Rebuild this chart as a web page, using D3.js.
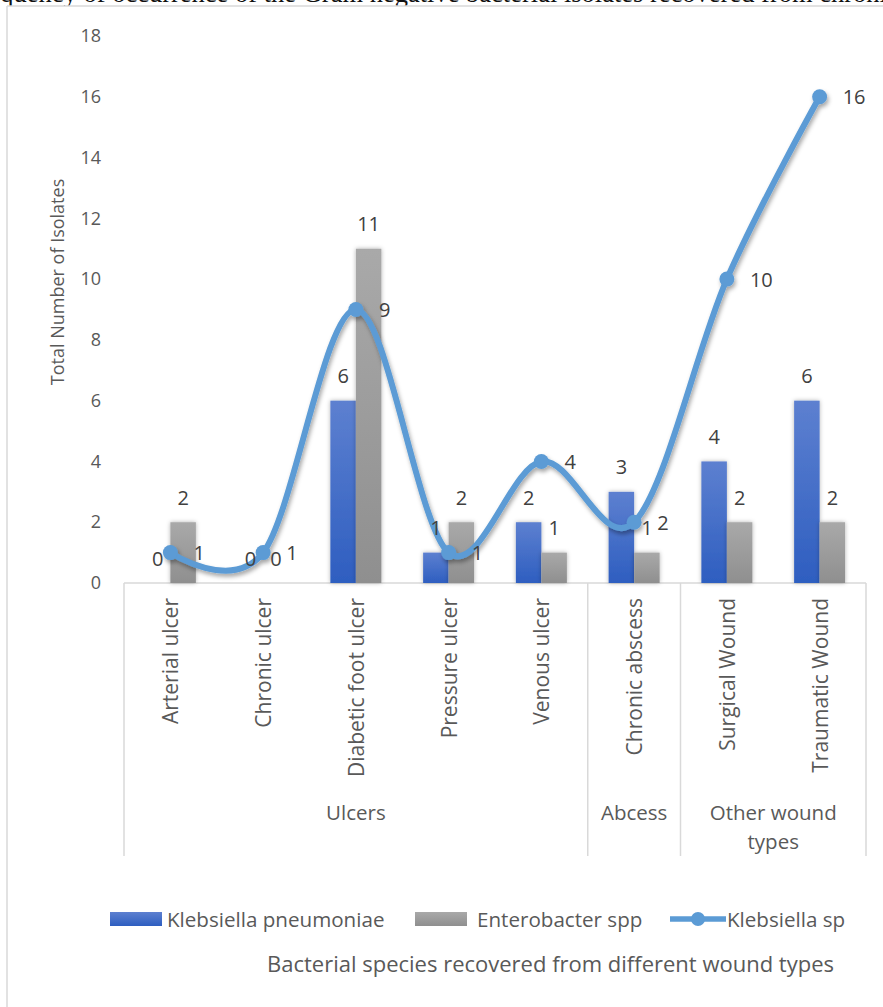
<!DOCTYPE html>
<html><head><meta charset="utf-8">
<script src="https://cdn.jsdelivr.net/npm/d3@7"></script>
<style>html,body{margin:0;padding:0;background:#fff;}svg{display:block;}</style>
</head><body>
<svg id="c" width="883" height="1007"></svg>
<script>
const categories = ["Arterial ulcer","Chronic ulcer","Diabetic foot ulcer","Pressure ulcer","Venous ulcer","Chronic abscess","Surgical Wound","Traumatic Wound"];
const groupNames = ["Ulcers","Abcess","Other wound types"];
const groupSizes = [5,1,2];
const klebsiellaPneumoniae = [0,0,6,1,2,3,4,6];
const enterobacterSpp = [2,0,11,2,1,1,2,2];
const klebsiellaSp = [1,1,9,1,4,2,10,16];
const yTicks = [0,2,4,6,8,10,12,14,16,18];
const seriesNames = ["Klebsiella pneumoniae","Enterobacter spp","Klebsiella sp"];
const yTitle = "Total Number of Isolates";
const xTitle = "Bacterial species recovered from different wound types";
const pageText = "Frequency of occurrence of the Gram negative bacterial isolates recovered from chronic wounds";

const svg = d3.select("#c");
const txt = "#595959", font = "'Open Sans', sans-serif";
const defs = svg.append("defs");
const gb = defs.append("linearGradient").attr("id","gBlue").attr("x1",0).attr("y1",0).attr("x2",0).attr("y2",1);
gb.append("stop").attr("offset","0%").attr("stop-color","#5d80d0");
gb.append("stop").attr("offset","100%").attr("stop-color","#2e5ec0");
const gg = defs.append("linearGradient").attr("id","gGray").attr("x1",0).attr("y1",0).attr("x2",0).attr("y2",1);
gg.append("stop").attr("offset","0%").attr("stop-color","#a9a9a9");
gg.append("stop").attr("offset","100%").attr("stop-color","#8f8f8f");
const fb = defs.append("filter").attr("id","barSh").attr("x","-30%").attr("y","-30%").attr("width","160%").attr("height","160%");
fb.append("feDropShadow").attr("dx",0).attr("dy",0).attr("stdDeviation",2).attr("flood-color","#000").attr("flood-opacity",0.3);
const fl = defs.append("filter").attr("id","lineSh").attr("x","-10%").attr("y","-10%").attr("width","120%").attr("height","120%");
fl.append("feDropShadow").attr("dx",1.5).attr("dy",3).attr("stdDeviation",2).attr("flood-color","#000").attr("flood-opacity",0.35);

// page text peeking above the chart
svg.append("text").attr("x",-35).attr("y",2).attr("font-family","'Liberation Serif', serif").attr("font-size",26.5).attr("fill","#111").text(pageText);
// chart background and frame
svg.append("rect").attr("x",7).attr("y",6).attr("width",883).attr("height",1007).attr("fill","#fff");
svg.append("line").attr("x1",7).attr("x2",7).attr("y1",6).attr("y2",1007).attr("stroke","#d9d9d9").attr("stroke-width",1.5);
svg.append("line").attr("x1",7).attr("x2",883).attr("y1",6).attr("y2",6).attr("stroke","#d9d9d9").attr("stroke-width",1.5);

const y = d3.scaleLinear().domain([0,18]).range([583,36]);
const x = d3.scaleBand().domain(categories).range([124,866]).padding(0);
const bw = 25.5;

// y axis labels
const yAxis = svg.append("g").attr("transform","translate(101,0)")
  .call(d3.axisLeft(y).tickValues(yTicks).tickSize(0).tickPadding(0));
yAxis.select(".domain").remove();
yAxis.selectAll("text").attr("font-family",font).attr("font-size",18).attr("fill",txt);

svg.append("text").attr("transform","translate(57,282) rotate(-90)").attr("text-anchor","middle")
  .attr("dominant-baseline","central").attr("font-family",font).attr("font-size",18).attr("fill",txt).text(yTitle);

// x axis line & group separators
svg.append("line").attr("x1",124).attr("x2",866).attr("y1",y(0)).attr("y2",y(0)).attr("stroke","#d9d9d9").attr("stroke-width",1.5);
let idx = 0;
const bounds = [0];
groupSizes.forEach(s=>{idx+=s;bounds.push(idx);});
bounds.forEach(b=>{
  const bx = b<categories.length ? x(categories[b]) : x.range()[1];
  svg.append("line").attr("x1",bx).attr("x2",bx).attr("y1",y(0)).attr("y2",856).attr("stroke","#d9d9d9").attr("stroke-width",1.5);
});
// category labels
categories.forEach(c=>{
  const cx = x(c)+x.bandwidth()/2;
  svg.append("text").attr("transform",`translate(${cx},598) rotate(-90)`).attr("text-anchor","end")
    .attr("dominant-baseline","central").attr("font-family",font).attr("font-size",21).attr("fill",txt).text(c);
});
// group labels
groupNames.forEach((g,i)=>{
  const x0 = bounds[i]<categories.length ? x(categories[bounds[i]]) : 866;
  const x1 = bounds[i+1]<categories.length ? x(categories[bounds[i+1]]) : 866;
  const cx = (x0+x1)/2;
  const lines = g==="Other wound types" ? ["Other wound","types"] : [g];
  lines.forEach((l,j)=>{
    svg.append("text").attr("x",cx).attr("y",812+j*29).attr("text-anchor","middle").attr("dominant-baseline","central")
      .attr("font-family",font).attr("font-size",20.5).attr("fill",txt).text(l);
  });
});

// bars
const cxOf = i => x(categories[i])+x.bandwidth()/2;
const bars = svg.append("g");
klebsiellaPneumoniae.forEach((v,i)=>{
  if(v>0) bars.append("rect").attr("x",cxOf(i)-bw).attr("y",y(v)).attr("width",bw).attr("height",y(0)-y(v)).attr("fill","url(#gBlue)").attr("filter","url(#barSh)");
});
enterobacterSpp.forEach((v,i)=>{
  if(v>0) bars.append("rect").attr("x",cxOf(i)).attr("y",y(v)).attr("width",bw).attr("height",y(0)-y(v)).attr("fill","url(#gGray)").attr("filter","url(#barSh)");
});

// line
const lg = svg.append("g").attr("filter","url(#lineSh)");
const line = d3.line().x((d,i)=>cxOf(i)).y(d=>y(d)).curve(d3.curveCardinal.tension(0));
lg.append("path").datum(klebsiellaSp).attr("d",line).attr("fill","none").attr("stroke","#5b9bd5").attr("stroke-width",6).attr("stroke-linejoin","round");
klebsiellaSp.forEach((v,i)=>{
  lg.append("circle").attr("cx",cxOf(i)).attr("cy",y(v)).attr("r",7.5).attr("fill","#5b9bd5");
});

// data labels
const lab = (xx,yy,t,anchor)=>svg.append("text").attr("x",xx).attr("y",yy).attr("text-anchor",anchor||"middle")
  .attr("dominant-baseline","central").attr("font-family",font).attr("font-size",20).attr("fill","#404040").text(t);
klebsiellaPneumoniae.forEach((v,i)=>lab(cxOf(i)-bw/2, y(v)-25, v));
enterobacterSpp.forEach((v,i)=>lab(cxOf(i)+bw/2, y(v)-25, v));
klebsiellaSp.forEach((v,i)=>lab(cxOf(i)+23, y(v), v, "start"));

// legend
const ly = 919;
const lfs = 20.6;
svg.append("rect").attr("x",110).attr("y",ly-7).attr("width",52).attr("height",14).attr("fill","url(#gBlue)");
svg.append("text").attr("x",167).attr("y",ly).attr("dominant-baseline","central").attr("font-family",font).attr("font-size",lfs).attr("fill",txt).text(seriesNames[0]);
svg.append("rect").attr("x",415).attr("y",ly-7).attr("width",52).attr("height",14).attr("fill","url(#gGray)");
svg.append("text").attr("x",477).attr("y",ly).attr("dominant-baseline","central").attr("font-family",font).attr("font-size",lfs).attr("fill",txt).text(seriesNames[1]);
svg.append("line").attr("x1",670).attr("x2",726).attr("y1",ly).attr("y2",ly).attr("stroke","#5b9bd5").attr("stroke-width",5.5);
svg.append("circle").attr("cx",698).attr("cy",ly).attr("r",7).attr("fill","#5b9bd5");
svg.append("text").attr("x",727).attr("y",ly).attr("dominant-baseline","central").attr("font-family",font).attr("font-size",lfs).attr("fill",txt).text(seriesNames[2]);

svg.append("text").attr("x",267).attr("y",963).attr("dominant-baseline","central").attr("font-family",font).attr("font-size",22).attr("fill",txt).text(xTitle);
</script>
</body></html>
